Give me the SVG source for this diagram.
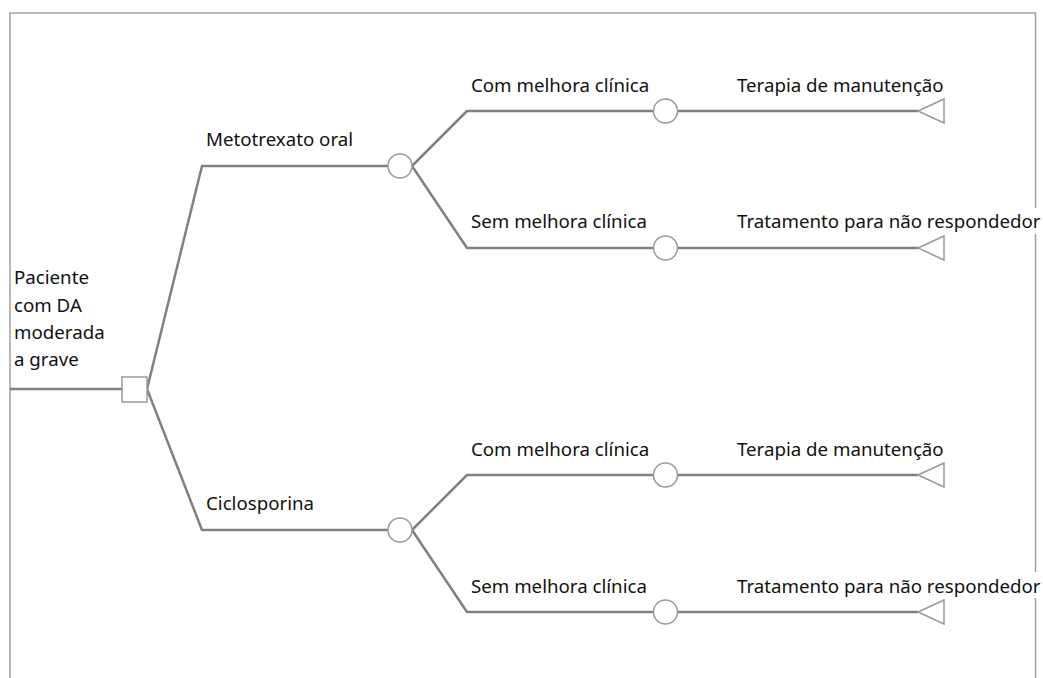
<svg xmlns="http://www.w3.org/2000/svg" width="1043" height="678" viewBox="0 0 1043 678">
<style>
.frame{fill:none;stroke:#a0a0a0;stroke-width:1.5}
.edge{fill:none;stroke:#808080;stroke-width:2.5;stroke-linejoin:round}
.chance{fill:#fff;stroke:#999;stroke-width:1.5}
.decision{fill:#fff;stroke:#999;stroke-width:1.5}
.term{fill:#fff;stroke:#999;stroke-width:1.5;stroke-linejoin:miter}
.lbl{font-family:"Noto Sans","Open Sans","DejaVu Sans",sans-serif;font-size:18.7px;fill:#111}
.bg{fill:#fff}
</style>
<rect width="1043" height="678" fill="#fff"/>
<path class="frame" d="M10,678 V13 H1035.5 V678"/>
<g id="connectors">
<path class="edge" d="M10,389 H122"/>
<path class="edge" d="M147,389 L202,166 H388"/>
<path class="edge" d="M147,389 L202,530 H388"/>
<path class="edge" d="M412,166 L467,111 H653"/>
<path class="edge" d="M412,166 L467,248 H653"/>
<path class="edge" d="M412,530 L467,475 H653"/>
<path class="edge" d="M412,530 L467,612 H653"/>
<path class="edge" d="M678,111 H918"/>
<path class="edge" d="M678,248 H918"/>
<path class="edge" d="M678,475 H918"/>
<path class="edge" d="M678,612 H918"/>
</g>
<g id="root">
<rect class="decision" x="122" y="377" width="25" height="25"/>
<text class="lbl" x="14" y="284">Paciente</text>
<text class="lbl" x="14" y="312">com DA</text>
<text class="lbl" x="14" y="339">moderada</text>
<text class="lbl" x="14" y="366">a grave</text>
</g>
<g id="mtx">
<circle class="chance" cx="400" cy="166" r="12"/>
<text class="lbl" x="206" y="146">Metotrexato oral</text>
</g>
<g id="ciclo">
<circle class="chance" cx="400" cy="530" r="12"/>
<text class="lbl" x="206" y="510">Ciclosporina</text>
</g>
<g id="mtx-com">
<circle class="chance" cx="665.5" cy="111" r="12"/>
<text class="lbl" x="471" y="92">Com melhora clínica</text>
</g>
<g id="mtx-sem">
<circle class="chance" cx="665.5" cy="248" r="12"/>
<text class="lbl" x="471" y="228">Sem melhora clínica</text>
</g>
<g id="ciclo-com">
<circle class="chance" cx="665.5" cy="475" r="12"/>
<text class="lbl" x="471" y="456">Com melhora clínica</text>
</g>
<g id="ciclo-sem">
<circle class="chance" cx="665.5" cy="612" r="12"/>
<text class="lbl" x="471" y="593">Sem melhora clínica</text>
</g>
<g id="mtx-com-end">
<polygon class="term" points="918,111 944,99 944,123"/>
<text class="lbl" x="737" y="92">Terapia de manutenção</text>
</g>
<g id="mtx-sem-end">
<polygon class="term" points="918,248 944,236 944,260"/>
<rect class="bg" x="1030" y="208" width="12" height="26"/>
<text class="lbl" x="737" y="228">Tratamento para não respondedor</text>
</g>
<g id="ciclo-com-end">
<polygon class="term" points="918,475 944,463 944,487"/>
<text class="lbl" x="737" y="456">Terapia de manutenção</text>
</g>
<g id="ciclo-sem-end">
<polygon class="term" points="918,612 944,600 944,624"/>
<rect class="bg" x="1030" y="572" width="12" height="26"/>
<text class="lbl" x="737" y="593">Tratamento para não respondedor</text>
</g>
</svg>
